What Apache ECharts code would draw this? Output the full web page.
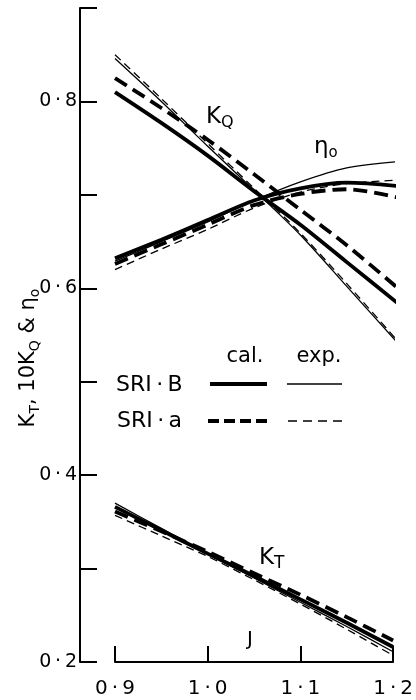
<!DOCTYPE html>
<html>
<head>
<meta charset="utf-8">
<script src="https://cdn.jsdelivr.net/npm/echarts@6/dist/echarts.min.js"></script>
<style>
  html, body { margin: 0; padding: 0; background: #fff; }
  #chart { width: 416px; height: 700px; }
</style>
</head>
<body>
<div id="chart"></div>
<script>
// advance coefficient J
var J = [0.9, 0.95, 1.0, 1.05, 1.1, 1.15, 1.2];
// upper curves run a little past 1.2
var Jup = [0.9, 0.95, 1.0, 1.05, 1.1, 1.15, 1.21];

// 10KQ
var kqCalB = [0.810, 0.777, 0.742, 0.704, 0.668, 0.628, 0.580];
var kqCalA = [0.825, 0.793, 0.759, 0.722, 0.684, 0.646, 0.596];
var kqExpB = [0.846, 0.800, 0.752, 0.705, 0.657, 0.602, 0.536];
var kqExpA = [0.850, 0.803, 0.755, 0.707, 0.659, 0.605, 0.538];

// eta0
var etaCalB = [0.632, 0.652, 0.673, 0.694, 0.707, 0.713, 0.709];
var etaCalA = [0.626, 0.647, 0.668, 0.689, 0.701, 0.706, 0.696];
var etaExpB = [0.629, 0.650, 0.671, 0.694, 0.714, 0.729, 0.736];
var etaExpA = [0.620, 0.642, 0.663, 0.686, 0.703, 0.712, 0.716];

// KT
var ktCalB = [0.366, 0.341, 0.316, 0.292, 0.267, 0.242, 0.216];
var ktCalA = [0.361, 0.340, 0.318, 0.295, 0.272, 0.248, 0.223];
var ktExpB = [0.370, 0.343, 0.316, 0.290, 0.264, 0.238, 0.211];
var ktExpA = [0.357, 0.335, 0.313, 0.288, 0.262, 0.235, 0.207];

var FONT = 'DejaVu Sans';
var TS = '\u2009'; // thin space, the old lettering is wide

// line looks: thick = calculated, thin = experiment, dashed = SRI-a
var calB = { color: '#000', width: 3.8, type: 'solid' };
var calA = { color: '#000', width: 3.8, type: [14, 7] };
var expB = { color: '#000', width: 1.3, type: 'solid' };
var expA = { color: '#000', width: 1.3, type: [8, 5] };

function line(name, xs, ys, style) {
    return {
        name: name,
        type: 'line',
        data: xs.map(function (x, i) { return [x, ys[i]]; }),
        smooth: 0.3,
        showSymbol: false,
        clip: false,
        silent: true,
        lineStyle: style
    };
}

var myChart = echarts.init(document.getElementById('chart'), null, { renderer: 'canvas' });

var option = {
    animation: false,
    backgroundColor: '#fff',
    grid: { left: 115, right: 20, top: 8, bottom: 38 },
    xAxis: {
        type: 'value',
        min: 0.9,
        max: 1.2,
        interval: 0.1,
        axisLine: { lineStyle: { color: '#000', width: 2 } },
        axisTick: { inside: true, length: 16, lineStyle: { color: '#000', width: 2 } },
        splitLine: { show: false },
        axisLabel: {
            margin: 17,
            color: '#000',
            fontFamily: FONT,
            fontSize: 20,
            formatter: function (v) { return v.toFixed(1).replace('.', TS + '·' + TS); }
        }
    },
    yAxis: {
        type: 'value',
        min: 0.2,
        max: 0.9,
        interval: 0.1,
        offset: 35,
        axisLine: { show: true, lineStyle: { color: '#000', width: 2 } },
        axisTick: { show: true, inside: true, length: 17, lineStyle: { color: '#000', width: 2 } },
        splitLine: { show: false },
        axisLabel: {
            margin: 3,
            color: '#000',
            fontFamily: FONT,
            fontSize: 19,
            formatter: function (v) {
                var n = Math.round(v * 10);
                return (n % 2 === 0 && n < 9) ? '0' + TS + '·' + TS + n : '';
            }
        }
    },
    series: [
        line('KQ cal SRI-B', Jup, kqCalB, calB),
        line('KQ cal SRI-a', Jup, kqCalA, calA),
        line('KQ exp SRI-B', Jup, kqExpB, expB),
        line('KQ exp SRI-a', Jup, kqExpA, expA),
        line('eta cal SRI-B', Jup, etaCalB, calB),
        line('eta cal SRI-a', Jup, etaCalA, calA),
        line('eta exp SRI-B', Jup, etaExpB, expB),
        line('eta exp SRI-a', Jup, etaExpA, expA),
        line('KT cal SRI-B', J, ktCalB, calB),
        line('KT cal SRI-a', J, ktCalA, calA),
        line('KT exp SRI-B', J, ktExpB, expB),
        line('KT exp SRI-a', J, ktExpA, expA)
    ],
    graphic: [
        // axis title
        {
            type: 'text', x: 29, y: 358, rotation: Math.PI / 2,
            style: {
                text: '{b|K}{s|T}{b|, 10K}{s|Q}{b| & η}{s|o}',
                align: 'center', verticalAlign: 'middle',
                rich: {
                    b: { fontFamily: FONT, fontSize: 21, fill: '#000', lineHeight: 26, verticalAlign: 'middle' },
                    s: { fontFamily: FONT, fontSize: 14, fill: '#000', lineHeight: 14, verticalAlign: 'bottom' }
                }
            }
        },
        // curve labels
        {
            type: 'text', x: 206, y: 103,
            style: {
                text: '{b|K}{s|Q}',
                rich: {
                    b: { fontFamily: FONT, fontSize: 23, fill: '#000', lineHeight: 28, verticalAlign: 'middle' },
                    s: { fontFamily: FONT, fontSize: 16, fill: '#000', lineHeight: 16, verticalAlign: 'bottom' }
                }
            }
        },
        {
            type: 'text', x: 314, y: 133,
            style: {
                text: '{b|η}{s|o}',
                rich: {
                    b: { fontFamily: FONT, fontSize: 23, fill: '#000', lineHeight: 28, verticalAlign: 'middle' },
                    s: { fontFamily: FONT, fontSize: 15, fill: '#000', lineHeight: 16, verticalAlign: 'bottom' }
                }
            }
        },
        {
            type: 'text', x: 259, y: 544,
            style: {
                text: '{b|K}{s|T}',
                rich: {
                    b: { fontFamily: FONT, fontSize: 23, fill: '#000', lineHeight: 28, verticalAlign: 'middle' },
                    s: { fontFamily: FONT, fontSize: 17, fill: '#000', lineHeight: 16, verticalAlign: 'bottom' }
                }
            }
        },
        {
            type: 'text', x: 250, y: 640,
            style: { text: 'J', fontFamily: FONT, fontSize: 20, fill: '#000', align: 'center', verticalAlign: 'middle' }
        },
        // legend table
        {
            type: 'text', x: 245, y: 357,
            style: { text: 'cal.', fontFamily: FONT, fontSize: 21, fill: '#000', align: 'center', verticalAlign: 'middle' }
        },
        {
            type: 'text', x: 319, y: 357,
            style: { text: 'exp.', fontFamily: FONT, fontSize: 21, fill: '#000', align: 'center', verticalAlign: 'middle' }
        },
        {
            type: 'text', x: 116, y: 385,
            style: { text: 'SRI' + TS + '·' + TS + 'B', fontFamily: FONT, fontSize: 22, fill: '#000', align: 'left', verticalAlign: 'middle' }
        },
        {
            type: 'text', x: 117, y: 421,
            style: { text: 'SRI' + TS + '·' + TS + 'a', fontFamily: FONT, fontSize: 22, fill: '#000', align: 'left', verticalAlign: 'middle' }
        },
        { type: 'line', shape: { x1: 210, y1: 384, x2: 267, y2: 384 }, style: { stroke: '#000', lineWidth: 4 } },
        { type: 'line', shape: { x1: 287, y1: 384, x2: 342, y2: 384 }, style: { stroke: '#000', lineWidth: 1.3 } },
        { type: 'line', shape: { x1: 208, y1: 421, x2: 267, y2: 421 }, style: { stroke: '#000', lineWidth: 4, lineDash: [11, 5] } },
        { type: 'line', shape: { x1: 288, y1: 421, x2: 342, y2: 421 }, style: { stroke: '#000', lineWidth: 1.3, lineDash: [9, 6] } }
    ]
};
myChart.setOption(option);
</script>
</body>
</html>
